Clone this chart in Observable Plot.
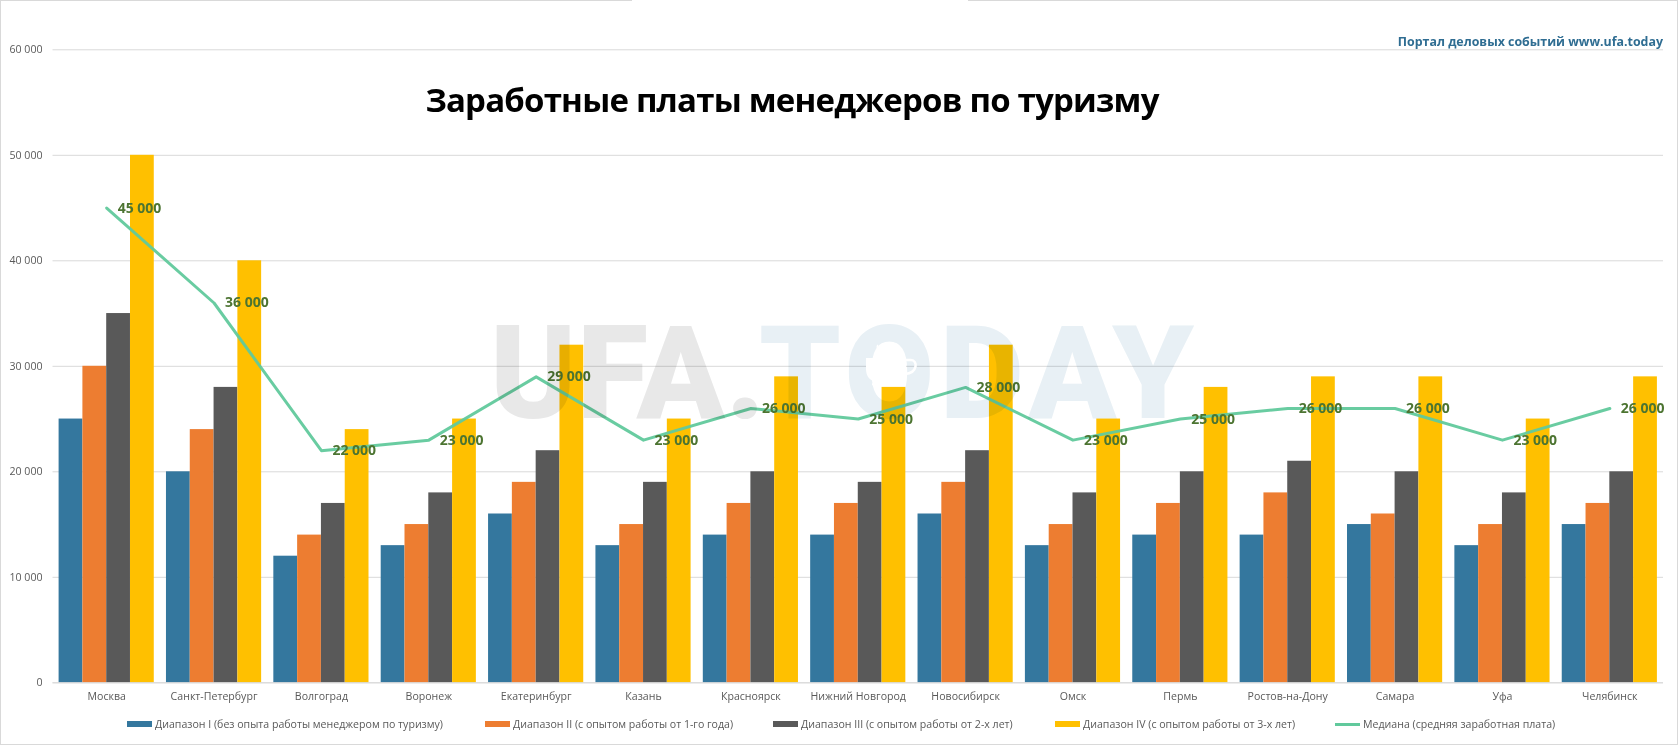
<!DOCTYPE html>
<html lang="ru">
<head>
<meta charset="utf-8">
<script src="https://cdn.jsdelivr.net/npm/d3@7"></script>
<script src="https://cdn.jsdelivr.net/npm/@observablehq/plot@0.6"></script>
<style>
html,body{margin:0;padding:0;background:#fff;}
#page{position:relative;width:1678px;height:745px;overflow:hidden;font-family:"Open Sans",sans-serif;}
#frame{position:absolute;inset:0;border:1.5px solid #d9d9d9;box-sizing:border-box;pointer-events:none;}
#gap{position:absolute;left:632px;top:0;width:336px;height:3px;background:#fff;}
#chart{position:absolute;left:0;top:0;}
#chart svg{display:block;overflow:visible;}
#title{position:absolute;left:0;right:0;top:77px;padding-right:94px;text-align:center;font-size:33px;letter-spacing:-.8px;font-weight:700;color:#000;line-height:46px;white-space:nowrap;}
#brand{position:absolute;right:15px;top:33px;font-size:12.4px;font-weight:700;color:#2f6d92;line-height:18px;white-space:nowrap;}
#legend{position:absolute;left:0;right:0;top:712px;height:33px;}
.item{position:absolute;top:4px;font-size:10.6px;line-height:16px;color:#595959;white-space:nowrap;padding-left:28px;}
.item i{position:absolute;left:0;top:5px;width:25px;height:6px;}
.item i.ln{top:7px;height:3px;}
#wm,#cup{position:absolute;left:0;top:0;pointer-events:none;}
#wm{mix-blend-mode:multiply;}
</style>
</head>
<body>
<div id="page">
  <div id="chart"></div>
  <svg id="wm" width="1678" height="745">
    <text y="418" font-family="Roboto" font-weight="900" font-size="130"><tspan x="490" fill="#e8e8e8" textLength="275">UFA.</tspan><tspan x="759" fill="#e8f0f5" textLength="435">TODAY</tspan></text>
  </svg>
  <svg id="cup" width="1678" height="745">
    <g fill="#fff" stroke="none">
      <path d="M866 358h40v11c0 8-5 13-12 13h-16c-7 0-12-5-12-13z"/>
      <path d="M906 360h5c7 0 7 13-6 14" fill="none" stroke="#fff" stroke-width="2.5"/>
      <rect x="872" y="383" width="28" height="2.5" rx="1"/>
      <path d="M878 345c-3 3 3 6 0 10M885 345c-3 3 3 6 0 10M892 345c-3 3 3 6 0 10" fill="none" stroke="#fff" stroke-width="1.5"/>
    </g>
  </svg>
  <div id="title">Заработные платы менеджеров по туризму</div>
  <div id="brand">Портал деловых событий www.ufa.today</div>
  <div id="legend"></div>
  <div id="frame"></div>
  <div id="gap"></div>
</div>
<script>
const cities = ["Москва","Санкт-Петербург","Волгоград","Воронеж","Екатеринбург","Казань","Красноярск","Нижний Новгород","Новосибирск","Омск","Пермь","Ростов-на-Дону","Самара","Уфа","Челябинск"];
const range1 = [25000,20000,12000,13000,16000,13000,14000,14000,16000,13000,14000,14000,15000,13000,15000];
const range2 = [30000,24000,14000,15000,19000,15000,17000,17000,19000,15000,17000,18000,16000,15000,17000];
const range3 = [35000,28000,17000,18000,22000,19000,20000,19000,22000,18000,20000,21000,20000,18000,20000];
const range4 = [50000,40000,24000,25000,32000,25000,29000,28000,32000,25000,28000,29000,29000,25000,29000];
const median = [45000,36000,22000,23000,29000,23000,26000,25000,28000,23000,25000,26000,26000,23000,26000];
const seriesNames = ["Диапазон I (без опыта работы менеджером по туризму)","Диапазон II (с опытом работы от 1-го года)","Диапазон III (с опытом работы от 2-х лет)","Диапазон IV (с опытом работы от 3-х лет)","Медиана (средняя заработная плата)"];
const seriesColors = ["#34779e","#ed7d31","#595959","#ffc000","#61c99c"];
const legendLeft = [127,485,773,1055,1335];
const yTicks = [0,10000,20000,30000,40000,50000,60000];

const fmt = v => d3.format(",")(v).replace(/,/g," ");
const rows = cities.map((city,i)=>({city,median:median[i]}));
const barWidth = 23.8, edge = 6.1;
const barMark = (vals,i) => Plot.barY(vals,{
  x:(d,j)=>cities[j], y:d=>d, fill:seriesColors[i],
  insetLeft:edge+i*barWidth, insetRight:edge+(3-i)*barWidth
});

const chart = Plot.plot({
  width:1678, height:712,
  marginTop:49.3, marginBottom:29.7, marginLeft:52.5, marginRight:15,
  style:{fontFamily:'"Open Sans",sans-serif',background:"transparent",overflow:"visible"},
  x:{type:"band",domain:cities,padding:0,round:false,label:null},
  y:{domain:[0,60000],label:null},
  marks:[
    Plot.gridY(yTicks,{stroke:"#d9d9d9",strokeOpacity:1,strokeWidth:1}),
    barMark(range1,0),barMark(range2,1),barMark(range3,2),barMark(range4,3),
    Plot.ruleY([0],{stroke:"#d9d9d9",strokeWidth:1}),
    Plot.line(rows,{x:"city",y:"median",stroke:seriesColors[4],strokeWidth:3,strokeOpacity:.95,curve:"linear"}),
    Plot.text(rows,{x:"city",y:"median",text:d=>fmt(d.median),textAnchor:"start",dx:11,fill:"#4c7431",fontSize:14,fontWeight:700}),
    Plot.axisY(yTicks,{tickSize:0,tickPadding:10.5,tickFormat:fmt,fill:"#595959",fontSize:10.6,label:null}),
    Plot.axisX({tickSize:0,tickPadding:10,fill:"#595959",fontSize:10.6,label:null,lineWidth:100})
  ]
});
document.getElementById("chart").append(chart);

const legend = document.getElementById("legend");
seriesNames.forEach((name,i)=>{
  const el=document.createElement("div");el.className="item";el.style.left=legendLeft[i]+"px";
  const sw=document.createElement("i");sw.style.background=seriesColors[i];if(i===4)sw.className="ln";
  el.append(sw,document.createTextNode(name));legend.append(el);
});
</script>
</body>
</html>
